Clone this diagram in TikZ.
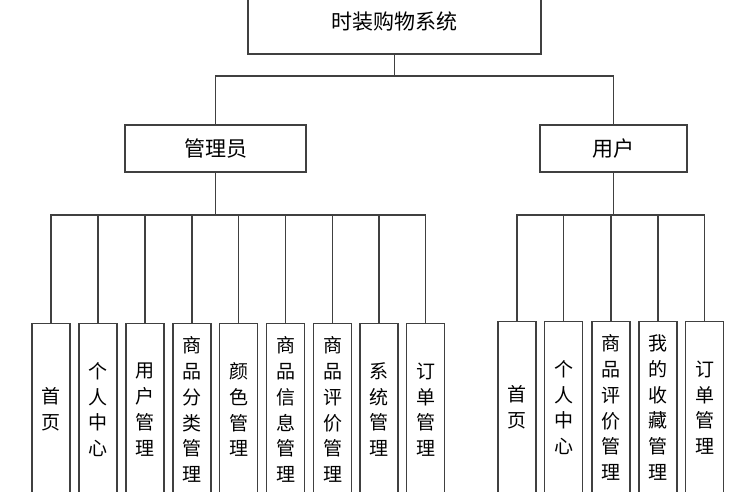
\documentclass[tikz,border=0pt]{standalone}
\usepackage{fontspec}
\newfontfamily\cjk{Noto Sans CJK SC}

\begin{document}
\begin{tikzpicture}[x=1pt,y=-1pt]
	\useasboundingbox (0,0) rectangle (735,491);
	\clip (0,0) rectangle (735,491);
	\begin{scope}[every node/.style={rectangle,draw=black!75,line width=1.2pt,font=\cjk\fontsize{21}{24}\selectfont}]
		\node[minimum width=293pt,minimum height=64pt] (sys) at (394.5,22) {时装购物系统};
		\node[minimum width=181pt,minimum height=47pt] (admin) at (215.5,148.5) {管理员};
		\node[minimum width=147pt,minimum height=47pt] (user) at (613.5,148.5) {用户};
	\end{scope}
	\begin{scope}[every node/.style={rectangle,draw=black!75,line width=1.2pt,anchor=north,
			minimum width=38pt,minimum height=172pt,inner sep=0pt,align=center,
			font=\cjk\fontsize{19}{25.7}\selectfont}]
		\node (a1) at (51,323) {首\\页};
		\node (a2) at (98,323) {个\\人\\中\\心};
		\node (a3) at (145,323) {用\\户\\管\\理};
		\node (a4) at (192,323) {商\\品\\分\\类\\管\\理};
		\node (a5) at (238.5,323) {颜\\色\\管\\理};
		\node (a6) at (285.5,323) {商\\品\\信\\息\\管\\理};
		\node (a7) at (332.5,323) {商\\品\\评\\价\\管\\理};
		\node (a8) at (379,323) {系\\统\\管\\理};
		\node (a9) at (425.5,323) {订\\单\\管\\理};
		\node (u1) at (517,321) {首\\页};
		\node (u2) at (563.5,321) {个\\人\\中\\心};
		\node (u3) at (611,321) {商\\品\\评\\价\\管\\理};
		\node (u4) at (658,321) {我\\的\\收\\藏\\管\\理};
		\node (u5) at (704.5,321) {订\\单\\管\\理};
	\end{scope}

	\coordinate (topbus) at (394.5,76);
	\coordinate (abus) at (215.5,215);
	\coordinate (ubus) at (613.5,215);
	\begin{scope}[every path/.style={draw=black!75,line width=1.2pt}]
		\draw (sys) -- (topbus);
		\draw (admin.north) |- (topbus) -| (user.north);
		\draw (admin) -- (abus);
		\draw (user) -- (ubus);
		\draw (a1.north) |- (abus);
		\draw (a2.north) |- (abus);
		\draw (a3.north) |- (abus);
		\draw (a4.north) |- (abus);
		\draw (a5.north) |- (abus);
		\draw (a6.north) |- (abus);
		\draw (a7.north) |- (abus);
		\draw (a8.north) |- (abus);
		\draw (a9.north) |- (abus);
		\draw (u1.north) |- (ubus);
		\draw (u2.north) |- (ubus);
		\draw (u3.north) |- (ubus);
		\draw (u4.north) |- (ubus);
		\draw (u5.north) |- (ubus);
	\end{scope}
\end{tikzpicture}
\end{document}
